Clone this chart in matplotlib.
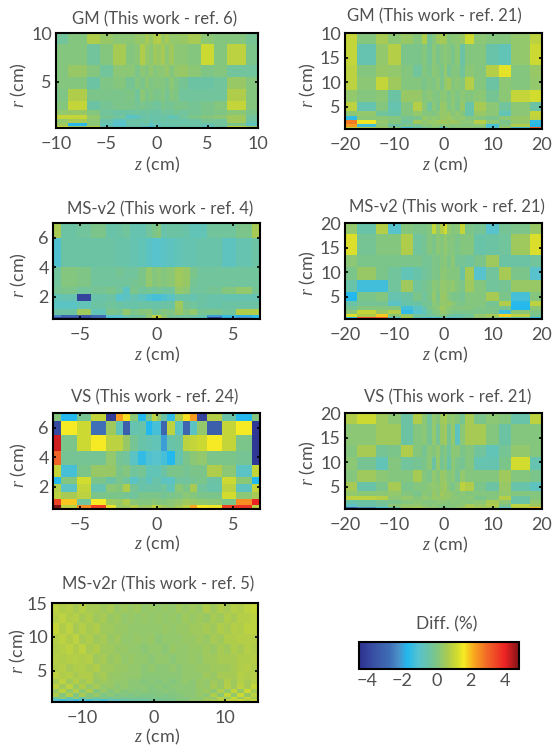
#!/usr/bin/env python
#-*- coding:utf-8 -*-
import numpy as np
import matplotlib
matplotlib.use("Agg")
import matplotlib.pyplot as plt
from matplotlib.colors import LinearSegmentedColormap, Normalize
from matplotlib.cm import ScalarMappable

plt.rcParams['font.family'] = ['Lato', 'DejaVu Sans']
plt.rcParams['mathtext.fontset'] = 'custom'
plt.rcParams['mathtext.it'] = 'Liberation Serif:italic'
plt.rcParams['mathtext.rm'] = 'Lato'
plt.rcParams['axes.unicode_minus'] = True

W, H = 559, 746
GREY = '#505050'

# cell edges, half of z since the grids are symmetric
z_half_20 = [0, .7, 1.5, 2.3, 3.3, 4.4, 6.2, 8.7, 11.2, 13.8, 17.6, 20]
r_edges_20 = [20, 17.7, 13.5, 11, 8.5, 6, 4.2, 3.2, 2.3, 1.5, .9, .5]
z_half_10 = [0, .35, .75, 1.15, 1.65, 2.2, 3.1, 4.35, 5.6, 6.9, 8.8, 10]
r_edges_10 = [10, 8.85, 6.75, 5.5, 4.25, 3, 2.1, 1.6, 1.15, .75, .45, .25]
z_half_7 = [0, .3, .7, 1.2, 1.7, 2.17, 2.65, 3.3, 4.24, 5.2, 6.2, 6.75]
r_edges_ms4 = [7, 6, 4, 3.3, 2.7, 2.2, 1.7, 1.2, .8, .65, .5]
r_edges_vs24 = [7, 6.45, 5.5, 4.45, 3.45, 2.65, 2.2, 1.65, 1.2, .75, .5]
r_edges_ms5 = [15, 13.5, 12, 10.5, 9, 7.5, 6, 4.8, 3.8, 3, 2.3, 1.7, 1.2, .8, .4]

gm_ref6 = [
    [-.3,.1,.7,.4,.2,.2,.4,.3,.6,.4,.7,.8,.4,.6,.3,.3,.4,.6,.2,.1,.1,-.2],
    [.1,.1,-.3,.1,.6,.1,.2,.7,.4,.2,.5,.4,.6,.2,.5,.2,.2,.1,1.1,.1,.9,-.1],
    [.1,.4,.1,-.3,.2,.2,-.1,.2,.1,.3,.1,.2,.2,.4,.1,.3,.4,.2,0,.1,-.3,-.3],
    [.1,.1,-.4,0,.1,-.2,.1,-.1,.2,0,.1,.1,.1,-.1,.2,0,-.2,-.4,-.4,-.3,.4,.1],
    [0,.7,-.1,-.1,-.1,0,-.3,.2,-.1,.1,-.1,-.1,.1,-.2,.1,0,-.3,-.3,-.3,-.3,.7,.1],
    [.1,1.0,-.4,-.2,-.1,-.1,-.2,-.1,-.2,-.2,-.3,-.3,-.1,-.2,-.2,-.1,-.1,-.2,-.1,.1,1.0,.1],
    [.3,.4,.1,-.3,-.4,-.4,-.3,-.4,-.3,-.4,-.4,-.4,-.3,-.3,-.3,-.2,-.3,-.2,-.1,0,.2,-.1],
    [1.0,1.0,.3,-.2,-.3,-.9,-.8,-.5,-.4,-.5,-.5,-.5,-.4,-.5,-.7,-.6,-.3,-.1,.1,.2,.5,-.3],
    [.3,.6,.2,-.5,-.9,-.4,-.4,-.4,-.3,-.6,-.4,-.5,-.4,-.5,-.4,-.4,-.5,-.4,-.2,-.3,.5,-.4],
    [.5,-1.6,.2,-.7,-1.0,-.5,-.4,-.6,-.5,-.9,-.6,-.7,-.5,-.6,-.5,-.5,-.4,-.4,-.6,-.3,-.1,-.8],
    [1.2,.5,.8,-.5,-.8,-.5,-.5,-.7,-.9,-1.3,-.8,-.7,-.6,-.5,-.7,-.6,-.4,-.6,-.8,-.4,1.0,.5],
]
gm_ref21 = [
    [1.0,.1,.6,.2,.4,.1,.7,-.2,.1,.5,.6,.5,.1,.2,.2,.4,1.1,.2,.1,.1,.3,.9],
    [1.0,-.6,.3,.8,-.1,-.1,.1,-.2,.2,-.1,.1,.2,.1,-.1,.2,-.4,.1,.1,-.5,-.7,.3,1.1],
    [.9,.1,.4,.3,.1,-.3,.1,-.1,.2,.1,-.1,.3,-.2,.1,.1,-.3,.2,.1,.8,1.4,.1,.4],
    [.9,.2,1.0,.5,.1,.1,-.1,.1,0,.2,-.1,.3,.5,.1,.2,.1,.8,.1,-.4,.2,.1,.3],
    [.3,.1,.2,-.4,.4,.4,.1,.2,.1,0,.2,.2,0,.2,0,.2,.1,.2,-.2,.2,1.0,1.2],
    [.9,-.6,.1,-.6,.1,.8,.2,-.3,.2,-.1,.4,.3,0,.2,-.1,.4,-.5,.6,.2,-.3,.2,-.4],
    [.2,.3,-.3,-.5,.1,.3,.1,.1,0,.2,.4,.3,.4,.1,.3,.1,-.5,.4,.2,-.7,.2,1.0],
    [-1.5,.2,.2,.1,-.2,-.1,.4,.2,.3,.2,.4,.4,.5,.3,.2,.3,.1,.1,-.1,.2,.4,.9],
    [2.7,1.5,.3,.1,-.3,.5,.2,.4,.3,.5,.5,.5,.4,.5,.4,.2,.2,.8,.2,-.1,.3,-1.5],
    [2.3,-1.3,.2,-.4,-.1,-.2,.2,.1,.3,.2,.1,.3,.2,.1,.2,.1,.1,.2,-1.2,.1,.7,-1.6],
    [.9,.8,.5,.2,-1.2,-.4,-.3,.1,.1,.1,-.9,-.8,.1,.1,.2,.2,.3,.1,-.9,.5,-1.3,3.2],
]
ms_ref4 = [
    [.6,-.4,-.3,-.1,-.5,-.4,-.3,-.6,-.6,-.3,-.1,.1,-.5,-.4,-.4,-.5,-.7,-.7,-.3,-.3,-.1,.6],
    [-1.1,-.4,-.4,-.4,-.4,-.5,-.5,-.6,-.7,-.9,-1.0,-1.0,-.9,-.8,-.7,-.6,-.6,-.5,-.5,-.8,-.6,-.4],
    [-.3,.1,0,-.3,-.3,-.2,-.3,-.3,-.1,.3,.1,.2,.1,.2,.5,.4,-.1,-.3,-.3,-.3,-.3,-.3],
    [-.3,.1,0,-.3,-.3,-.3,-.3,-.2,-.1,.3,.1,.2,.1,.2,.5,.4,-.2,-.3,-.3,-.3,-.3,-.3],
    [-.2,-.1,-.3,-.2,-.1,-.3,-.9,-.1,-.3,-.2,-.3,-.2,-.3,-.3,.3,.2,-.3,-.3,-.2,.1,.3,-.2],
    [-.7,-.6,-4.0,-.5,-.4,-1.0,-.8,-.6,-.8,-1.1,-1.2,-1.2,-1.1,-.9,-.5,-.5,-.6,-.4,-.5,-.6,-.6,-.6],
    [-.9,-.9,-.7,-.4,-.3,-.4,-.5,-.5,-.4,-.4,-.5,-.5,-.4,-.4,.5,-.2,-.3,-.4,-.5,-.4,-.4,-.4],
    [-.4,-.4,.5,-.7,-.1,-.2,.3,-.1,.1,.2,-.2,-.1,.1,0,.4,.1,.3,-.2,-.1,-.3,.7,.7],
    [-2.3,-3.0,-3.4,-2.8,-1.0,-1.0,-.4,-.4,-.4,.2,.9,1.0,.2,-.2,-.3,-.3,-.4,-.5,-2.0,-1.4,-1.8,-1.5],
    [-3.6,-3.6,-3.8,-3.0,-1.1,-1.0,-.7,-.3,-.2,.3,.9,1.1,.5,-.2,-.3,-.3,-.5,-.8,-3.8,-1.9,-2.2,-1.7],
]
ms_ref21 = [
    [.3,-.5,.8,-1.0,.1,-.1,-.1,.1,1.0,.3,.8,1.2,.3,.1,.2,1.0,-.1,-.2,-1.0,-.2,-.1,.4],
    [1.3,-.2,.1,.1,.7,-.3,-.2,.1,-.1,.2,.1,.3,.1,.1,-.1,.1,.1,-.5,-.4,-.3,.5,1.3],
    [.2,-.1,-.1,-.1,-.1,-.1,-.2,-.2,0,-.1,.1,.2,-.1,.2,-.2,-.2,-.3,-.1,.5,-.4,-.4,-.3],
    [-.1,.4,-.1,-.3,-.7,-.5,-.3,-.2,0,-.1,.2,.2,.1,.1,.1,-.4,.6,-1.0,-.3,.6,-.1,-1.0],
    [-.5,-1.3,-1.3,-.3,.5,-.3,-.2,-.1,.2,.1,.3,.3,.2,.3,.1,-.1,.5,.1,-.3,-.2,.4,.4],
    [-1.7,-.1,.1,-.6,-.4,-.1,-.3,-.1,.3,-.1,.4,.4,.1,-.1,-.1,-.2,.1,.1,.6,-.1,-1.2,.1],
    [-.5,-.2,-.2,-.9,-.5,-.4,-.2,-.2,.2,.1,.3,.3,.4,.2,0,-.1,.1,.1,-.2,.7,-1.6,.9],
    [-.2,.1,.1,.1,-1.3,-.9,-.5,-.1,.1,.2,.5,.4,.2,.1,.1,.1,.1,0,-.1,-.2,-1.7,.2],
    [.2,1.0,.4,.8,-1.5,-1.0,-.7,-.3,0,.1,.3,.3,.1,-.1,-.1,-.1,-.1,-.1,-.1,-1.3,.2,0],
    [1.3,.7,1.9,.2,.4,-.3,-.5,-.3,-.3,-.1,.1,.1,-.3,-.4,-.5,-.4,-.3,.3,.6,1.8,.9,-.2],
    [-1.5,3.3,3.0,-1.0,.7,-.9,-1.0,-1.2,-1.0,-1.2,-.8,-1.0,-1.1,-1.0,-.9,-.5,-.2,.2,.1,-.6,-.5,-1.5],
]
vs_ref24 = [
    [.1,-1.7,-.2,1.0,-4.2,2.3,1.7,.2,-1.7,-.1,.9,.3,-.4,-1.5,.7,1.7,2.3,-4.0,.8,-.5,-1.7,.1],
    [-3.8,1.6,1.1,-2.7,.5,-.7,-3.2,-.6,-.5,-1.7,-1.2,-1.2,-3.0,.9,-.9,-3.0,-.9,.3,-3.2,1.0,1.6,-4.3],
    [4.2,-.1,1.1,1.6,.9,.9,.4,-.2,-.5,-.6,-.7,-.7,-2.0,-.5,-.4,.9,1.0,1.1,1.6,1.0,-.1,-4.3],
    [3.0,-.2,-.2,-.2,.3,-.2,-.3,-.9,-1.5,-1.1,-1.0,-1.0,-1.2,-1.7,-.6,-.1,.2,.3,-.1,-.1,-.2,-4.3],
    [1.0,-1.2,-.1,.4,.4,-.1,.1,-.3,-.2,-.7,-.7,-.7,-.4,-.1,-.1,-.2,-.1,-.1,.7,.2,-.9,1.0],
    [-1.7,.1,1.2,-.1,-.4,-.1,-.3,-.9,-.5,-.8,-.5,-.5,-.8,-.9,-.3,-.3,-.2,-.1,-.4,1.1,.2,-1.7],
    [.8,-.9,1.0,-.6,.2,.1,.7,-.2,-.5,-.4,-.4,-.4,-.3,-.7,.2,-.1,.6,-.3,-.5,.9,-.8,1.0],
    [.9,.6,.9,-.1,-.1,-.1,-.2,-.3,-.1,-.1,-.1,-.1,-.2,-.1,0,.2,.1,-.1,-.1,1.2,.2,.6],
    [3.5,1.9,-.3,1.6,.5,.4,.7,.2,.1,.1,.2,.1,.1,.2,.3,.5,.4,.3,.2,-.1,2.5,4.0],
    [4.9,.9,2.5,3.5,1.4,.4,.5,.8,.4,.5,.9,.8,.5,.3,.6,.9,2.2,1.6,1.5,3.6,3.7,.9],
]
vs_ref21 = [
    [.7,1.1,.5,.2,-.4,.7,.2,-.3,.3,.1,.5,.6,.2,.3,.1,-.2,.6,-.1,.2,.1,-.5,.9],
    [.2,.2,.5,.5,-.4,.1,.2,-.2,.3,-.2,.4,.5,-.2,.3,-.8,.2,.6,.6,.1,-.4,.1,.1],
    [.1,.6,-.2,-.1,.7,.1,-.2,.2,.1,.3,-.1,.1,-.3,.2,.2,-.1,.1,-.3,-.7,-.2,.3,.1],
    [.2,-.2,-.7,.1,-.3,-.2,-.1,.2,-.4,.3,-.2,.1,-.5,.2,-.1,-.2,.1,-.6,-.6,-.1,1.2,-.6],
    [.1,.5,.2,.1,.1,.6,.1,-.1,.3,.1,.4,.3,.1,.2,-.2,.3,.1,.1,.1,.5,.1,-.1],
    [.6,-.5,-.1,.6,-.1,.1,.1,.2,.3,.2,.4,.5,.1,-.1,.2,.9,.7,-.1,-.4,.4,-.5,-.8],
    [.3,.2,.2,.3,.1,-.1,.2,.1,.4,.2,.5,.4,.3,.2,.1,.2,.1,.1,.1,.3,.1,.1],
    [.9,.9,.8,.2,.3,.1,.3,.2,.4,.3,.4,.4,.3,.2,.2,.1,.2,-.1,.1,.8,-.4,.1],
    [-.5,-.4,-.2,-.1,.1,.2,.1,.1,.1,.2,.2,.2,.1,.2,.1,.2,.1,.2,.6,.2,-.4,.3],
    [-.9,-.5,-.3,.2,.3,.3,.2,.1,.2,.1,.1,.1,.1,.1,.2,.2,.6,.4,.7,-.1,.9,.5],
    [-3.0,-2.2,-1.2,-.4,.5,.8,.5,.3,.2,.1,-.1,-.2,.1,.1,.3,.6,.8,.7,.4,-1.0,.9,2.0],
]
ms_ref5 = [
    [.9,.7,.8,.6,.8,.6,.6,.5,.6,.4,.5,.4,.5,.3,.4,.3,.4,.3,.5,.4,.5,.4,.7,.5,.7,.6,.8,.7,.9,1.0],
    [.8,.9,.7,.8,.6,.7,.5,.6,.4,.5,.3,.4,.3,.4,.3,.4,.3,.4,.3,.5,.4,.5,.4,.6,.5,.7,.6,.8,.8,.9],
    [1.0,.7,.9,.6,.8,.6,.7,.5,.5,.4,.4,.3,.3,.3,.3,.3,.4,.3,.4,.4,.5,.5,.6,.5,.7,.6,.8,.7,.9,.9],
    [.8,.9,.7,.9,.6,.7,.5,.6,.4,.5,.3,.3,.4,.3,.4,.2,.3,.3,.3,.4,.4,.5,.4,.6,.5,.7,.7,.8,.8,.8],
    [.7,.8,.9,.7,.9,.6,.7,.5,.5,.4,.4,.3,.3,.2,.3,.3,.2,.4,.3,.3,.4,.4,.5,.4,.6,.5,.7,.6,.8,.7],
    [.8,.7,.8,.8,.7,.8,.5,.6,.4,.5,.3,.4,.3,.3,.2,.3,.3,.2,.3,.3,.4,.3,.5,.5,.6,.6,.6,.7,.7,.8],
    [.7,.8,.6,.7,.7,.6,.7,.5,.5,.4,.4,.3,.3,.2,.3,.2,.2,.3,.2,.3,.3,.4,.4,.5,.5,.5,.6,.7,.8,.7],
    [.9,.7,.8,.6,.7,.7,.5,.6,.4,.4,.3,.3,.3,.2,.2,.2,.2,.2,.2,.3,.3,.3,.5,.4,.6,.6,.6,.8,.7,.8],
    [.6,.9,.5,.8,.5,.7,.4,.5,.4,.3,.3,.2,.2,.1,.2,.1,.2,.1,.2,.3,.2,.4,.3,.5,.4,.7,.5,.8,.6,.8],
    [.9,.5,.9,.4,.7,.3,.6,.3,.4,.2,.3,.2,.2,.2,.1,.2,.1,.2,.2,.2,.2,.4,.3,.6,.4,.8,.5,.9,.6,1.0],
    [.4,.9,.3,.8,.2,.7,.1,.4,.1,.3,.1,.2,.1,.2,.1,.1,.2,.1,.2,.2,.2,.3,.5,.2,.7,.3,1.0,.4,1.1,.6],
    [.7,.1,.8,0,.6,.1,.4,0,.2,0,.1,0,.1,0,0,.1,0,.1,.1,.2,.2,.4,.2,.7,.2,1.0,.3,1.1,.4,.9],
    [-.3,.3,-.5,.3,-.4,.2,-.3,.1,-.3,.1,-.2,0,-.2,-.1,-.1,-.1,-.1,0,.1,.1,.2,.2,.5,.3,.9,.3,1.1,.4,1.0,.6],
    [-1.0,-1.3,-1.1,-1.4,-1.0,-1.2,-.9,-1.2,-.7,-.8,-.5,-.5,-.3,-.4,-.2,-.2,-.1,-.1,.1,.1,.3,.3,.5,.6,.8,1.0,.9,1.1,.8,1.0],
]

panel_titles = ['GM (This work - ref. 6)', 'GM (This work - ref. 21)',
                'MS-v2 (This work - ref. 4)', 'MS-v2 (This work - ref. 21)',
                'VS (This work - ref. 24)', 'VS (This work - ref. 21)',
                'MS-v2r (This work - ref. 5)']

cb_ticks = [-4, -2, 0, 2, 4]
vmin, vmax = -4.5, 4.8

cmap_vals = [-4.5, -3.5, -2.7, -2.2, -1.7, -1.0, -.4, .1, .7, 1.2, 1.6, 2.2, 2.9, 4.0, 4.8]
cmap_cols = ['#2e3192', '#3a56a6', '#3f6fb6', '#4a90c8', '#22b8ee', '#58c3cc', '#6cc3a2',
             '#84c67e', '#aecb4c', '#d2dc2e', '#f6ea23', '#f9a61e', '#f26c27', '#ed2224', '#7f1416']
cmap = LinearSegmentedColormap.from_list(
    'diff', [((v - vmin) / (vmax - vmin), c) for v, c in zip(cmap_vals, cmap_cols)])
norm = Normalize(vmin, vmax)


def px_axes(fig, x0, x1, y0, y1):
    return fig.add_axes([x0 / W, 1 - y1 / H, (x1 - x0) / W, (y1 - y0) / H])


def put(fig, x, y, s, **kw):
    fig.text(x / W, 1 - y / H, s, ha='center', va='center', color=GREY, **kw)


def style(ax):
    for sp in ax.spines.values():
        sp.set_linewidth(1.5)
        sp.set_color('black')
    ax.tick_params(direction='in', top=True, right=True, length=2, width=1.2,
                   color='black', labelcolor=GREY, labelsize=13)
    ax.tick_params(axis='x', pad=6)
    ax.tick_params(axis='y', pad=3)


def panel(fig, box, z_edges, r_edges, vals, xticks, yticks, xlim, ylim, title, title_xy, xl_xy, rl_xy, ylabels=None):
    ax = px_axes(fig, *box)
    ax.pcolormesh(z_edges, r_edges, np.array(vals), cmap=cmap, norm=norm, edgecolors='none')
    ax.set_xlim(*xlim)
    ax.set_ylim(*ylim)
    ax.set_xticks(xticks)
    ax.set_yticks(yticks)
    if ylabels:
        ax.set_yticklabels(ylabels)
    style(ax)
    put(fig, title_xy[0], title_xy[1], title, fontsize=12)
    put(fig, xl_xy[0], xl_xy[1], r'$\mathit{z}$ (cm)', fontsize=13)
    put(fig, rl_xy[0], rl_xy[1], r'$\mathit{r}$ (cm)', fontsize=13, rotation=90)
    return ax


def sym(half):
    half = np.array(half, dtype=float)
    return np.concatenate([-half[::-1], half[1:]])


fig = plt.figure(figsize=(W / 100, H / 100), dpi=100)

panel(fig, (56, 258, 33, 128), sym(z_half_10), r_edges_10, gm_ref6, [-10, -5, 0, 5, 10], [5, 10],
      (-10, 10), (.25, 10), panel_titles[0], (155, 19), (157, 165), (19, 85))
panel(fig, (345, 542, 33, 129), sym(z_half_20), r_edges_20, gm_ref21, [-20, -10, 0, 10, 20], [5, 10, 15, 20],
      (-20, 20), (.5, 20), panel_titles[1], (434, 16), (445, 165), (308, 85), ['5', '10', '15', '10'])
panel(fig, (53, 260, 223, 319), sym(z_half_7), r_edges_ms4, ms_ref4, [-5, 0, 5], [2, 4, 6],
      (-6.75, 6.75), (.5, 7), panel_titles[2], (160, 209), (157, 355), (19, 275))
panel(fig, (345, 542, 223, 319), sym(z_half_20), r_edges_20, ms_ref21, [-20, -10, 0, 10, 20], [5, 10, 15, 20],
      (-20, 20), (.5, 20), panel_titles[3], (447, 207), (445, 355), (308, 273))
panel(fig, (53, 260, 413, 509), sym(z_half_7), r_edges_vs24, vs_ref24, [-5, 0, 5], [2, 4, 6],
      (-6.75, 6.75), (.5, 7), panel_titles[4], (155, 397), (157, 544), (19, 465))
panel(fig, (345, 542, 413, 509), sym(z_half_20), r_edges_20, vs_ref21, [-20, -10, 0, 10, 20], [5, 10, 15, 20],
      (-20, 20), (.5, 20), panel_titles[5], (448, 397), (445, 545), (308, 463))
panel(fig, (52, 258, 603, 702), np.linspace(-14.3, 14.7, 31), r_edges_ms5, ms_ref5, [-10, 0, 10], [5, 10, 15],
      (-14.3, 14.7), (.4, 15), panel_titles[6], (158, 584), (157, 737), (18, 651))

cax = px_axes(fig, 359, 519, 642, 669)
cb = fig.colorbar(ScalarMappable(norm=norm, cmap=cmap), cax=cax, orientation='horizontal', ticks=cb_ticks)
cb.outline.set_linewidth(1.5)
cax.tick_params(length=0, labelcolor=GREY, labelsize=13, pad=3)
put(fig, 447, 624, 'Diff. (%)', fontsize=12.5)

fig.savefig('out.png', dpi=100)
